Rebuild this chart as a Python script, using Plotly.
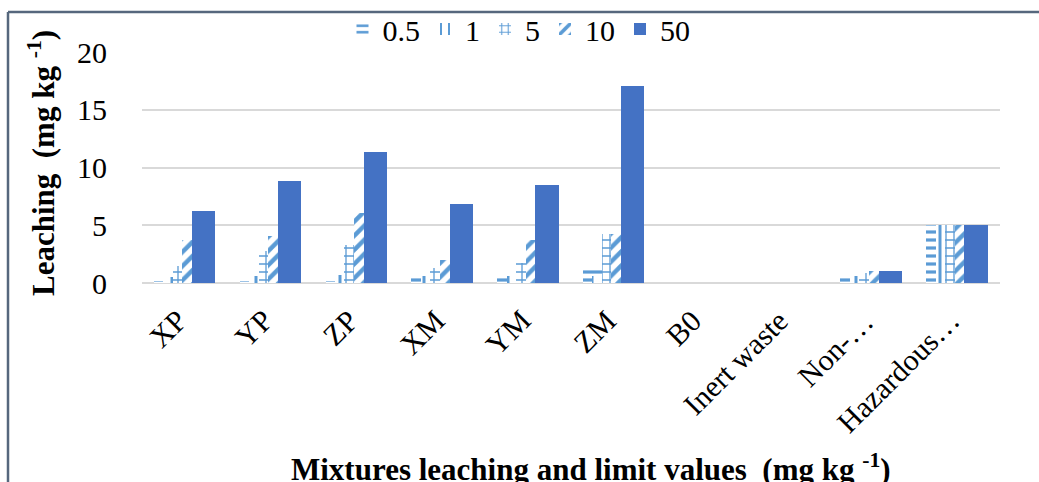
import plotly.graph_objects as go

categories = ["XP", "YP", "ZP", "XM", "YM", "ZM", "B0", "Inert waste", "Non-…", "Hazardous…"]
series_names = ["0.5", "1", "5", "10", "50"]
v_05 = [0.1, 0.1, 0.1, 0.55, 0.6, 1.3, 0, 0, 0.65, 5]
v_1 = [0.5, 0.6, 0.7, 0.6, 0.6, 0.6, 0, 0, 0.6, 5]
v_5 = [1.45, 2.75, 3.3, 1.3, 1.7, 4.25, 0, 0, 0.9, 5]
v_10 = [3.75, 4.1, 6.1, 2.0, 3.75, 4.2, 0, 0, 1.0, 5]
v_50 = [6.2, 8.87, 11.33, 6.8, 8.52, 17.05, 0, 0, 1.0, 5]
y_ticks = [0, 5, 10, 15, 20]

FONT = "Liberation Serif, Times New Roman, serif"
LIGHT = "#5B9BD5"
DARK = "#4472C4"

series_values = [v_05, v_1, v_5, v_10, v_50]
patterns = [
    dict(shape="-", size=8, solidity=0.4),
    dict(shape="|", size=12, solidity=0.25),
    dict(shape="+", size=8, solidity=0.3),
    dict(shape="/", size=10, solidity=0.45),
    None,
]
offsets = [-0.36, -0.25, -0.14, -0.03, 0.085]
width = 0.27

fig = go.Figure()
for name, vals, pat, off in zip(series_names, series_values, patterns, offsets):
    if pat is None:
        marker = dict(color=DARK, line=dict(width=0))
    else:
        marker = dict(color=LIGHT, line=dict(width=0),
                      pattern=dict(shape=pat["shape"], size=pat["size"], solidity=pat["solidity"],
                                   fgcolor=LIGHT, bgcolor="white", fillmode="replace"))
    fig.add_trace(go.Bar(x=categories, y=vals, name=name, marker=marker,
                         offset=off, width=width))

L, R, T, B = 142, 39, 52, 199
W, H = 1039, 482
pw = W - L - R
ph = H - T - B

def px_x(p):
    return (p - L) / pw

def px_y(p):
    return (H - B - p) / ph

TICK = 30
TITLE = 31

fig.update_layout(
    width=W, height=H,
    margin=dict(l=L, r=R, t=T, b=B, pad=0, autoexpand=False),
    barmode="overlay",
    plot_bgcolor="white", paper_bgcolor="white",
    font=dict(family=FONT, size=TICK, color="black"),
    showlegend=True,
    legend=dict(orientation="h", x=px_x(519), xanchor="center", y=px_y(29), yanchor="middle",
                font=dict(family=FONT, size=TICK, color="black"), bgcolor="rgba(0,0,0,0)",
                itemwidth=30, tracegroupgap=0),
    xaxis=dict(type="category", showticklabels=False,
               showgrid=False, showline=False, zeroline=False, ticks="",
               range=[-0.5, len(categories) - 0.5]),
    yaxis=dict(range=[0, 20], tickvals=y_ticks, tickfont=dict(family=FONT, size=TICK),
               showgrid=True, gridcolor="#D9D9D9", gridwidth=2,
               zeroline=True, zerolinecolor="#D9D9D9", zerolinewidth=2,
               showline=False, ticks="outside", ticklen=28, tickcolor="rgba(0,0,0,0)"),
    bargap=0,
)

# rotated category labels
for cat in categories:
    fig.add_annotation(text=cat, xref="x", yref="paper", x=cat, y=px_y(301),
                       xanchor="right", yanchor="top", textangle=-45, showarrow=False,
                       xshift=11, font=dict(family=FONT, size=TICK))

fig.add_annotation(text="<b>Leaching\u00a0 (mg kg <sup>-1</sup>)</b>", xref="paper", yref="paper",
                   x=px_x(41), y=px_y(163), xanchor="center", yanchor="middle",
                   textangle=-90, showarrow=False, font=dict(family=FONT, size=TITLE))
fig.add_annotation(text="<b>Mixtures leaching and limit values\u00a0 (mg kg <sup>-1</sup>)</b>",
                   xref="paper", yref="paper", x=px_x(591), y=px_y(467),
                   xanchor="center", yanchor="middle", showarrow=False,
                   font=dict(family=FONT, size=TITLE))

# chart frame (top and left edges visible)
frame = dict(color="#56677D", width=2.5)
fig.add_shape(type="line", xref="paper", yref="paper", x0=px_x(8), x1=px_x(1060),
              y0=px_y(12), y1=px_y(12), line=frame)
fig.add_shape(type="line", xref="paper", yref="paper", x0=px_x(8), x1=px_x(8),
              y0=px_y(12), y1=px_y(500), line=frame)

fig.write_html("out.html", config={"displayModeBar": False},
               post_script="document.body.style.margin='0px';document.body.style.padding='0px';")
